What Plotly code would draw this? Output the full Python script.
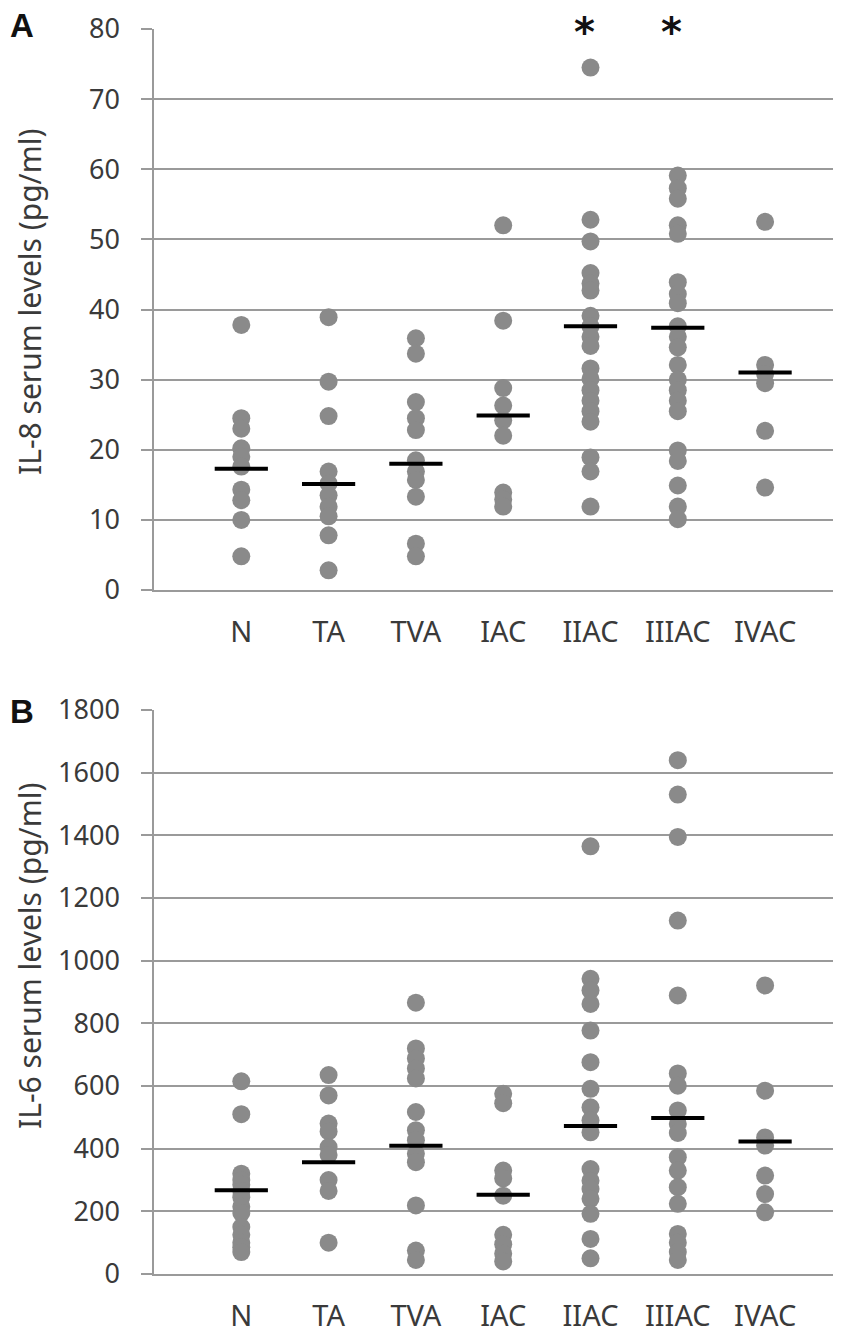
import plotly.graph_objects as go

categories = ["N", "TA", "TVA", "IAC", "IIAC", "IIIAC", "IVAC"]

# Panel A: IL-8 serum levels (pg/ml)
il8_N = [37.8, 24.5, 23.0, 20.2, 19.0, 17.6, 14.3, 12.8, 10.0, 4.8]
il8_TA = [38.9, 29.7, 24.8, 16.9, 15.2, 13.5, 11.9, 10.5, 7.8, 2.8]
il8_TVA = [35.9, 33.7, 26.8, 24.5, 22.8, 18.5, 16.9, 15.7, 13.3, 6.6, 4.8]
il8_IAC = [52.0, 38.4, 28.8, 26.3, 24.2, 22.0, 13.9, 12.9, 11.9]
il8_IIAC = [74.5, 52.8, 49.7, 45.2, 43.7, 42.7, 39.1, 37.6, 36.1, 34.8, 31.6,
            30.1, 28.5, 27.0, 25.5, 24.0, 18.9, 16.9, 11.9]
il8_IIIAC = [59.1, 57.3, 55.8, 52.0, 50.8, 43.9, 42.2, 40.9, 37.6, 36.1, 34.6,
             32.1, 30.0, 28.5, 27.0, 25.5, 19.9, 18.4, 14.9, 11.9, 10.1]
il8_IVAC = [52.5, 32.1, 30.8, 29.5, 22.7, 14.6]
il8_medians = [17.3, 15.1, 18.0, 24.9, 37.6, 37.4, 31.0]
il8_significant = ["IIAC", "IIIAC"]

# Panel B: IL-6 serum levels (pg/ml)
il6_N = [615, 510, 320, 300, 285, 265, 245, 215, 195, 150, 125, 100, 85, 70]
il6_TA = [635, 570, 480, 455, 405, 380, 300, 265, 100]
il6_TVA = [866, 720, 688, 656, 624, 517, 459, 427, 384, 357, 219, 75, 45]
il6_IAC = [575, 545, 330, 305, 250, 125, 95, 65, 40]
il6_IIAC = [1365, 942, 905, 862, 777, 676, 591, 532, 490, 452, 335, 298, 271,
            240, 192, 112, 50]
il6_IIIAC = [1640, 1530, 1395, 1128, 889, 640, 601, 522, 479, 450, 373, 330,
             277, 224, 128, 100, 70, 45]
il6_IVAC = [921, 585, 436, 410, 314, 255, 197]
il6_medians = [267, 357, 409, 253, 472, 498, 423]

il8_groups = [il8_N, il8_TA, il8_TVA, il8_IAC, il8_IIAC, il8_IIIAC, il8_IVAC]
il6_groups = [il6_N, il6_TA, il6_TVA, il6_IAC, il6_IIAC, il6_IIIAC, il6_IVAC]

W, H = 841, 1331
OFF = 8  # page body margin
DOT = "#8a8a8a"
GRID = "#9a9a9a"
TXT = "#3a3a3a"
FONT = "Noto Sans"


def px(x):
    return (x - OFF) / W


def py(y):
    return (H - (y - OFF)) / H


fig = go.Figure()


def add_panel(groups, medians, xa, ya):
    xs, ys = [], []
    for i, g in enumerate(groups):
        xs += [i + 1] * len(g)
        ys += g
    fig.add_trace(go.Scatter(x=xs, y=ys, mode="markers", xaxis=xa, yaxis=ya,
                             marker=dict(size=18, color=DOT, line=dict(width=0)),
                             showlegend=False, hoverinfo="y"))
    fig.add_trace(go.Scatter(x=list(range(1, len(medians) + 1)), y=medians,
                             mode="markers", xaxis=xa, yaxis=ya,
                             marker=dict(symbol="line-ew", size=38, color="black",
                                         line=dict(width=4, color="black")),
                             showlegend=False, hoverinfo="y"))


add_panel(il8_groups, il8_medians, "x", "y")
add_panel(il6_groups, il6_medians, "x2", "y2")

xdom = [px(154), 1]
span_px = W - (154 - OFF)
xmax = span_px / 87.3
domA = [py(590), py(29)]
domB = [py(1274), py(710)]

xcommon = dict(range=[0, xmax], tickvals=list(range(1, 8)), ticktext=categories,
               showgrid=False, zeroline=False, showline=True, linecolor=GRID,
               linewidth=1.5, ticks="", ticklabelstandoff=15, automargin=False,
               tickfont=dict(family=FONT, size=29, color=TXT), fixedrange=True)
ycommon = dict(showgrid=True, gridcolor=GRID, gridwidth=1.5, zeroline=False,
               showline=True, linecolor=GRID, linewidth=1.5, ticks="outside",
               ticklen=11, tickcolor=GRID, tickwidth=1.5, ticklabelstandoff=16,
               automargin=False,
               tickfont=dict(family=FONT, size=27, color=TXT), fixedrange=True)

fig.update_layout(
    template="none",
    width=W, height=H,
    margin=dict(l=0, r=0, t=0, b=0, autoexpand=False),
    paper_bgcolor="white", plot_bgcolor="white",
    xaxis=dict(domain=xdom, anchor="y", **xcommon),
    yaxis=dict(domain=domA, anchor="x", range=[0, 80], dtick=10, **ycommon),
    xaxis2=dict(domain=xdom, anchor="y2", **xcommon),
    yaxis2=dict(domain=domB, anchor="x2", range=[0, 1800], dtick=200, **ycommon),
)

ann = []
# y-axis titles
ann.append(dict(text="IL-8 serum levels (pg/ml)", xref="paper", yref="paper",
                x=px(29), y=py(302), textangle=-90,
                showarrow=False, xanchor="center", yanchor="middle",
                font=dict(family=FONT, size=30, color=TXT)))
ann.append(dict(text="IL-6 serum levels (pg/ml)", xref="paper", yref="paper",
                x=px(30), y=py(956), textangle=-90,
                showarrow=False, xanchor="center", yanchor="middle",
                font=dict(family=FONT, size=30, color=TXT)))
# panel letters
ann.append(dict(text="<b>A</b>", xref="paper", yref="paper", x=px(22),
                y=py(26), showarrow=False, xanchor="center", yanchor="middle",
                font=dict(family="Liberation Sans", size=33, color="#111")))
ann.append(dict(text="<b>B</b>", xref="paper", yref="paper", x=px(22),
                y=py(711), showarrow=False, xanchor="center", yanchor="middle",
                font=dict(family="Liberation Sans", size=33, color="#111")))
# significance asterisks
for c in il8_significant:
    ann.append(dict(text="<b>*</b>", xref="x", yref="paper",
                    x=categories.index(c) + 1 - 0.07, y=1,
                    showarrow=False, xanchor="center", yanchor="top",
                    borderpad=0,
                    font=dict(family="DejaVu Sans", size=40, color="#111")))
fig.update_layout(annotations=ann)

fig.write_html("out.html")
